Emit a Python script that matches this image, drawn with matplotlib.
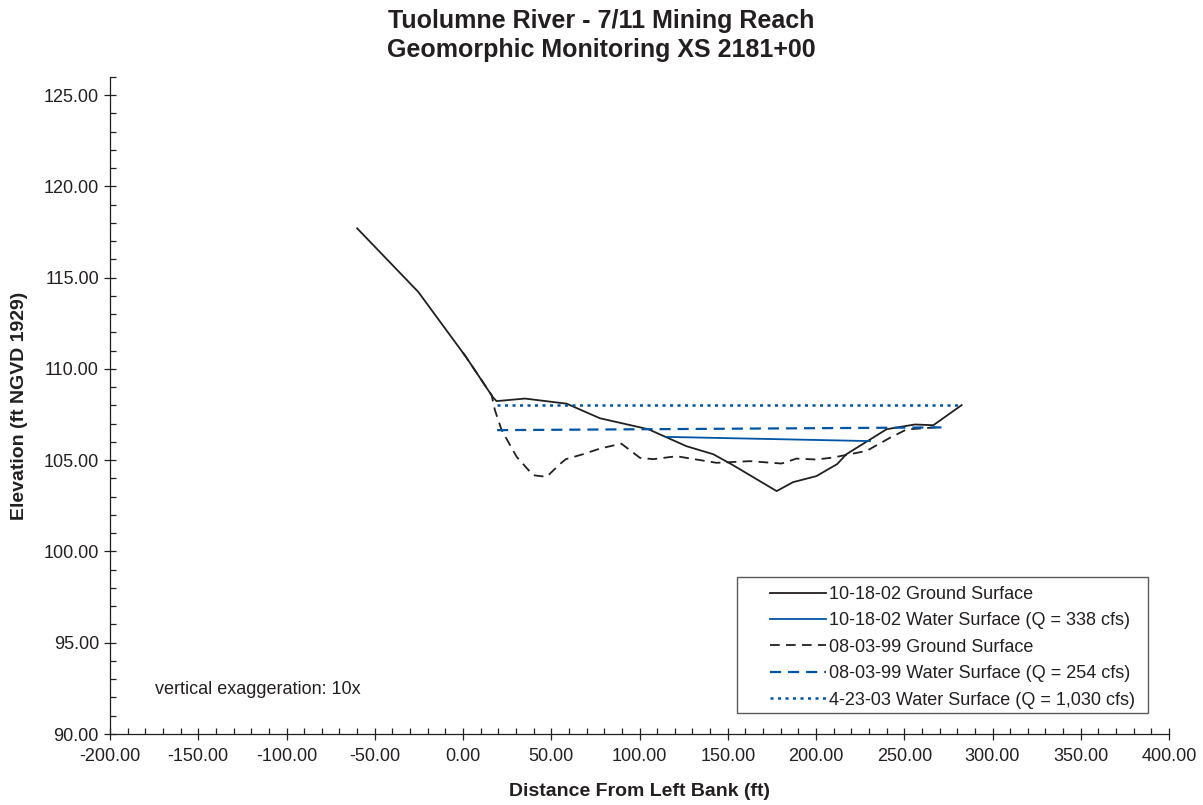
import matplotlib
matplotlib.use("Agg")
import matplotlib.pyplot as plt
from matplotlib.patches import Rectangle
from matplotlib.ticker import MultipleLocator, FormatStrFormatter

plt.rcParams['font.family'] = ['Liberation Sans', 'DejaVu Sans']
plt.rcParams['lines.scale_dashes'] = False

# 10-18-02 ground surface
gs02_x = [-60.0, -25.3, 2.0, 16.8, 19.0, 35.1, 58.7, 77.6, 105.0, 126.6, 141.8,
          153.0, 177.7, 187.0, 200.2, 212.0, 217.2, 240.0, 256.0, 266.5, 282.5]
gs02_y = [117.71, 114.22, 110.62, 108.47, 108.24, 108.38, 108.10, 107.30, 106.70,
          105.77, 105.33, 104.73, 103.31, 103.80, 104.13, 104.79, 105.33, 106.70,
          106.96, 106.92, 108.02]

# 10-18-02 water surface (Q = 338 cfs)
ws02_x = [115.3, 230.6]
ws02_y = [106.28, 106.05]

# 08-03-99 ground surface
gs99_x = [0.0, 16.2, 18.1, 21.9, 30.4, 39.7, 47.4, 55.0, 58.3, 68.0, 77.6, 89.7,
          100.3, 107.8, 121.0, 143.6, 162.6, 180.5, 189.0, 200.3, 209.7, 228.6,
          241.9, 251.4, 272.0]
gs99_y = [110.90, 108.57, 107.74, 106.65, 105.19, 104.18, 104.09, 104.80, 105.06,
          105.33, 105.64, 105.91, 105.13, 105.06, 105.22, 104.86, 104.95, 104.82,
          105.09, 105.04, 105.15, 105.51, 106.23, 106.69, 106.83]

# 08-03-99 water surface (Q = 254 cfs)
ws99_x = [19.3, 272.0]
ws99_y = [106.65, 106.80]

# 4-23-03 water surface (Q = 1,030 cfs)
ws03_x = [19.0, 282.5]
ws03_y = [108.02, 108.02]

labels = [
    "10-18-02 Ground Surface",
    "10-18-02 Water Surface (Q = 338 cfs)",
    "08-03-99 Ground Surface",
    "08-03-99 Water Surface (Q = 254 cfs)",
    "4-23-03 Water Surface (Q = 1,030 cfs)",
]

black = '#231f20'
blue = '#0054a6'

W, H = 1203, 805
fig = plt.figure(figsize=(W / 100, H / 100), dpi=100)
ax = fig.add_axes([110 / W, 1 - 734 / H, (1169 - 110) / W, (734 - 77) / H])

l1, = ax.plot(gs02_x, gs02_y, color=black, lw=1.3, label=labels[0])
l2, = ax.plot(ws02_x, ws02_y, color=blue, lw=1.3, label=labels[1])
l3, = ax.plot(gs99_x, gs99_y, color=black, lw=1.3, label=labels[2])
l3.set_dashes([7.0, 4.5])
l4, = ax.plot(ws99_x, ws99_y, color=blue, lw=1.6, label=labels[3])
l4.set_dashes([8.0, 5.0])
l5, = ax.plot(ws03_x, ws03_y, color=blue, lw=1.8, label=labels[4])
l5.set_dashes([2.2, 3.2])

ax.set_xlim(-200, 400)
ax.set_ylim(90, 126)
ax.xaxis.set_major_locator(MultipleLocator(50))
ax.xaxis.set_minor_locator(MultipleLocator(10))
ax.yaxis.set_major_locator(MultipleLocator(5))
ax.yaxis.set_minor_locator(MultipleLocator(1))
ax.xaxis.set_major_formatter(FormatStrFormatter('%.2f'))
ax.yaxis.set_major_formatter(FormatStrFormatter('%.2f'))

for s in ['top', 'right']:
    ax.spines[s].set_visible(False)
for s in ['left', 'bottom']:
    ax.spines[s].set_linewidth(0.9)
    ax.spines[s].set_color(black)

ax.tick_params(which='major', direction='inout', length=8, width=0.9,
               labelsize=13, colors=black, pad=6)
ax.tick_params(which='minor', direction='in', length=4, width=0.9, colors=black)
ax.tick_params(axis='y', which='major', pad=4)

ax.set_xlabel("Distance From Left Bank (ft)", fontsize=14, fontweight='bold',
              color=black, labelpad=13)
ax.set_ylabel("Elevation (ft NGVD 1929)", fontsize=14, fontweight='bold',
              color=black, labelpad=11)

# two-line title, each line placed on its own baseline
fig.text(0.5, 1 - 28 / H, "Tuolumne River - 7/11 Mining Reach", fontsize=18,
         fontweight='bold', color=black, ha='center', va='baseline')
fig.text(0.5, 1 - 57 / H, "Geomorphic Monitoring XS 2181+00", fontsize=18,
         fontweight='bold', color=black, ha='center', va='baseline')

ax.text(-174.5, 92.46, "vertical exaggeration: 10x", fontsize=13, color=black,
        va='center', ha='left')

# legend entries without their own frame; the box is drawn separately
leg = ax.legend(loc='upper left', bbox_to_anchor=(770 / W, 1 - 586 / H),
                bbox_transform=fig.transFigure, borderaxespad=0, borderpad=0,
                fontsize=13, frameon=False, handlelength=3.1,
                handletextpad=0.15, labelspacing=0.52)
for t in leg.get_texts():
    t.set_color(black)

fig.patches.append(Rectangle((737 / W, 1 - 713 / H), (1148 - 737) / W,
                             (713 - 577) / H, transform=fig.transFigure,
                             fill=False, edgecolor='#5a5a5a', linewidth=1.0))

fig.savefig("out.png", dpi=100)
